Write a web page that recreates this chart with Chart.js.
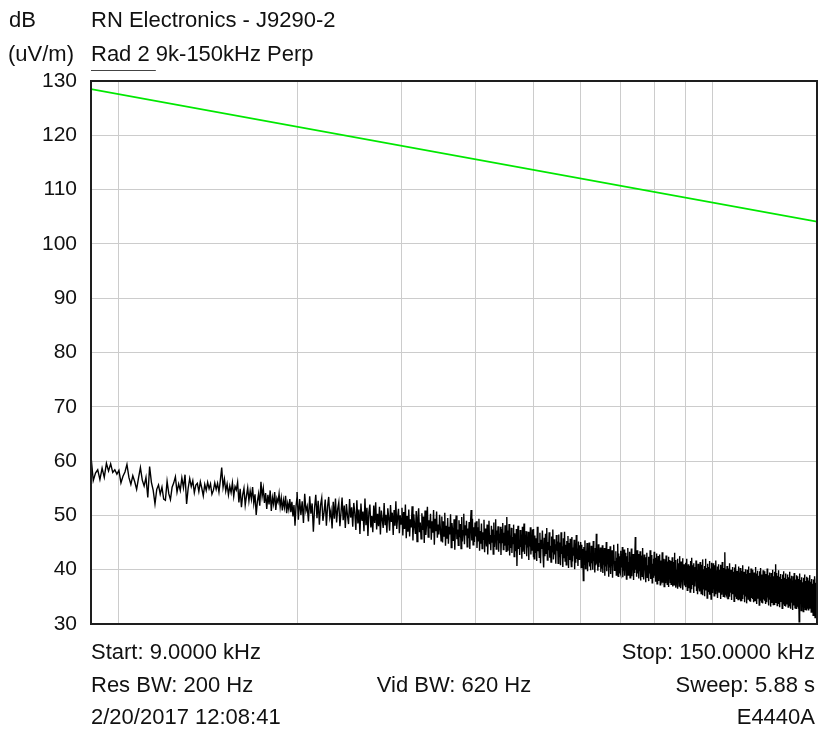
<!DOCTYPE html>
<html>
<head>
<meta charset="utf-8">
<script src="https://cdn.jsdelivr.net/npm/chart.js@4.4.1/dist/chart.umd.min.js"></script>
<style>
    html, body { margin: 0; padding: 0; background: #fff; }
    #wrap { width: 818px; height: 731px; }
</style>
</head>
<body>
<div id="wrap"><canvas id="chart" width="818" height="731"></canvas></div>
<script>
const FONT = '"Liberation Sans", Arial, sans-serif';

// axis
const gridFreqsKHz = [10, 20, 30, 40, 50, 60, 70, 80, 90, 100];
const levelTicksDb = [30, 40, 50, 60, 70, 80, 90, 100, 110, 120, 130];

// limit line (green)
const limitFreqsKHz = [9, 150];
const limitDb = [128.5, 104.1];

const trace9to20 = [
    60.9, 56.4, 57.8, 58.4, 56.6, 58.7, 57.0, 59.6, 58.2, 59.5,
    57.9, 58.4, 57.6, 58.3, 56.0, 57.2, 58.0, 59.4, 57.0, 55.7,
    57.3, 56.2, 54.8, 56.9, 58.8, 56.5, 55.4, 57.0, 53.3, 59.0,
    56.1, 54.6, 52.1, 54.8, 55.6, 53.9, 55.2, 53.0, 52.8, 56.3,
    54.0, 52.9, 55.2, 56.0, 57.1, 54.3, 55.8, 54.6, 56.9, 55.1,
    57.5, 52.1, 55.0, 56.8, 55.3, 56.4, 54.2, 55.6, 55.9, 54.4,
    56.2, 55.0, 53.6, 55.7, 54.6, 56.1, 54.9, 55.8, 53.9, 54.6,
    56.0, 54.8, 55.9, 54.3, 56.4, 58.8, 55.2, 56.7, 54.5, 55.8,
    53.8, 55.4, 54.2, 56.0, 53.5, 55.3, 54.7, 56.1, 52.4, 54.9,
    51.5, 53.8, 55.0, 51.9, 53.6, 55.1, 52.7, 54.5, 53.0, 55.2,
    52.2, 53.9, 50.1, 52.6, 54.0, 51.8, 56.2, 53.5, 55.0, 52.3,
    54.1, 51.2, 53.8, 52.0, 54.6, 50.8, 53.3, 52.1, 54.3, 51.0,
    53.1, 52.4, 54.0, 51.6, 53.2, 50.9, 52.8, 51.5, 53.6, 50.4,
    52.2, 51.1, 53.0, 50.6, 52.5, 49.8, 51.9, 48.1, 51.7, 53.4
];
const trace20to50 = [
    54.3, 49.2, 53.0, 50.1, 52.6, 48.6, 54.0, 50.8, 51.7, 48.9,
    53.5, 50.3, 52.2, 47.0, 51.4, 53.8, 49.5, 52.7, 48.3, 51.9,
    53.2, 49.0, 50.6, 52.9, 48.1, 51.6, 53.4, 49.7, 50.9, 47.6,
    52.5, 49.4, 53.1, 48.7, 51.2, 52.4, 48.0, 50.5, 53.3, 49.1,
    51.8, 47.7, 52.1, 50.0, 48.4, 53.0, 49.6, 51.5, 47.9, 52.3,
    50.4, 47.3, 52.8, 48.5, 51.1, 46.6, 52.2, 49.0, 50.7, 47.1,
    53.1, 48.2, 51.4, 46.2, 50.6, 52.0, 47.8, 49.9, 46.9, 51.8,
    48.6, 52.4, 47.4, 50.3, 48.0, 51.6, 46.5, 50.9, 49.2, 47.7,
    52.3, 48.3, 50.1, 46.8, 51.3, 49.5, 47.2, 51.9, 48.8, 50.5,
    46.4, 51.0, 48.1, 52.6, 47.5, 49.7, 51.2, 46.7, 50.0, 48.4,
    51.4, 46.3, 50.6, 47.5, 52.0, 45.8, 49.9, 47.0, 51.1, 46.1,
    49.3, 47.8, 51.7, 45.4, 50.2, 48.1, 46.6, 50.8, 45.2, 49.6,
    51.3, 46.9, 48.7, 45.7, 50.4, 47.3, 49.8, 44.9, 50.9, 46.4,
    48.5, 51.6, 46.0, 49.1, 47.6, 50.3, 45.5, 48.9, 46.8, 51.0,
    44.6, 49.4, 47.1, 50.7, 45.9, 48.3, 46.5, 50.1, 47.7, 45.3,
    49.8, 45.0, 48.9, 46.2, 50.5, 44.4, 48.1, 45.7, 49.5, 44.8,
    47.9, 46.5, 50.2, 44.1, 48.6, 46.9, 45.3, 49.3, 43.7, 48.0,
    50.0, 45.6, 47.4, 44.5, 49.1, 46.0, 48.4, 43.9, 49.7, 45.2,
    47.2, 50.3, 44.7, 48.2, 46.3, 49.0, 44.2, 47.6, 45.8, 48.8,
    43.8, 48.5, 51.0, 45.4, 49.4, 44.6, 47.8, 45.1, 48.7, 46.1,
    48.9, 44.0, 47.8, 45.3, 49.4, 43.5, 47.1, 44.8, 48.5, 43.9,
    46.9, 45.6, 49.2, 43.2, 47.6, 45.9, 44.3, 48.3, 42.8, 47.0,
    49.0, 44.7, 46.4, 43.6, 48.1, 45.1, 47.4, 42.9, 48.7, 44.2,
    46.2, 49.3, 43.8, 47.2, 45.4, 48.0, 43.3, 46.6, 44.9, 47.9,
    42.7, 47.5, 45.0, 48.6, 43.7, 46.8, 44.4, 48.2, 45.7, 43.4,
    49.7, 43.6, 47.2, 44.5, 48.4, 42.6, 46.3, 44.0, 47.7, 43.1,
    46.0, 44.8, 48.3, 42.4, 46.7, 45.0, 43.4, 47.5, 40.7, 46.2,
    48.1, 43.8, 45.5, 42.7, 47.3, 44.2, 46.5, 42.0, 47.9, 43.3,
    45.3, 48.5, 42.9, 46.4, 44.6, 47.1, 42.5, 45.8, 44.1, 47.0,
    41.8, 46.6, 44.3, 47.8, 42.8, 45.9, 43.5, 47.4, 44.7, 42.3
];
const trace50to100 = [
    47.5, 42.0, 46.3, 43.1, 45.8, 41.6, 47.9, 43.4, 44.9, 42.3,
    46.8, 41.2, 45.5, 43.8, 47.2, 42.7, 40.4, 45.9, 42.5, 46.6,
    43.0, 47.7, 41.8, 45.1, 43.6, 46.9, 42.2, 44.4, 41.4, 46.1,
    43.3, 47.4, 41.9, 45.6, 42.8, 44.7, 41.1, 46.4, 43.5, 45.2,
    41.2, 46.5, 42.4, 45.0, 40.8, 46.9, 42.9, 44.3, 40.5, 45.8,
    42.1, 47.0, 41.6, 44.6, 40.9, 45.3, 42.7, 46.2, 40.3, 44.9,
    41.8, 45.7, 42.3, 40.6, 46.0, 41.5, 44.1, 42.6, 45.5, 40.1,
    44.8, 41.3, 46.4, 42.0, 43.9, 40.7, 45.2, 41.9, 44.5, 42.8,
    45.1, 40.4, 44.6, 41.7, 43.8, 38.0, 44.2, 41.0, 45.4, 40.2,
    43.5, 41.8, 44.9, 39.7, 43.1, 41.4, 45.0, 40.6, 42.9, 39.9,
    44.4, 41.2, 43.7, 40.0, 45.3, 41.6, 42.4, 39.5, 44.0, 40.8,
    46.6, 41.1, 43.3, 39.8, 44.7, 40.5, 42.8, 41.3, 44.1, 39.6,
    43.9, 40.2, 44.5, 39.4, 42.6, 40.9, 44.0, 38.9, 43.2, 40.6,
    45.1, 39.7, 42.3, 41.0, 43.8, 38.7, 42.9, 40.4, 44.3, 39.2,
    42.0, 40.8, 43.6, 38.5, 42.7, 41.2, 44.6, 39.9, 41.6, 40.1,
    43.4, 39.0, 42.2, 40.7, 44.8, 38.8, 43.0, 40.3, 42.5, 39.5,
    43.5, 39.1, 42.8, 40.4, 44.2, 38.6, 42.0, 39.8, 43.7, 38.9,
    41.9, 40.6, 43.1, 38.3, 42.5, 39.6, 44.0, 39.0, 41.4, 40.2,
    43.3, 38.5, 42.2, 39.9, 43.9, 38.8, 41.7, 40.5, 42.9, 38.1,
    42.4, 39.4, 41.2, 46.0, 40.0, 42.7, 38.7, 43.6, 39.3, 41.8,
    42.9, 38.4, 42.1, 39.7, 43.4, 38.0, 41.6, 39.2, 42.6, 38.8,
    44.0, 39.5, 41.3, 38.2, 42.8, 39.9, 41.0, 37.7, 42.3, 39.1,
    43.1, 38.6, 40.8, 39.8, 42.4, 37.9, 41.7, 39.3, 43.6, 38.3,
    41.5, 39.0, 42.7, 37.6, 41.1, 39.6, 42.0, 38.5, 43.3, 38.9,
    42.2, 37.8, 41.4, 39.1, 43.0, 37.4, 41.0, 38.7, 42.5, 37.9,
    40.6, 39.3, 42.8, 37.2, 41.7, 38.4, 40.9, 38.0, 43.2, 37.6,
    41.3, 39.0, 42.0, 36.9, 40.4, 38.6, 41.9, 37.5, 42.6, 38.2,
    40.8, 37.3, 41.5, 39.4, 42.4, 36.8, 40.7, 38.8, 41.8, 37.7,
    41.6, 37.3, 40.9, 38.6, 42.3, 36.9, 40.2, 38.1, 41.4, 37.2,
    43.1, 38.4, 40.6, 36.7, 41.8, 38.9, 40.0, 37.5, 42.0, 36.5,
    40.8, 38.3, 41.2, 37.0, 42.5, 38.0, 39.7, 36.6, 41.5, 38.7,
    40.3, 37.4, 42.1, 36.3, 40.5, 38.5, 41.0, 37.1, 39.9, 38.2,
    41.3, 36.8, 40.4, 38.0, 42.0, 36.2, 39.8, 37.6, 41.0, 36.6,
    40.7, 38.3, 39.5, 35.9, 41.6, 37.9, 40.1, 36.4, 42.2, 37.3,
    39.9, 38.5, 40.8, 35.7, 41.2, 37.7, 39.3, 36.9, 40.5, 38.1,
    41.7, 36.1, 40.0, 37.4, 39.6, 35.5, 41.1, 37.8, 40.3, 36.7,
    40.6, 36.0, 41.4, 37.2, 39.7, 35.6, 40.9, 37.8, 39.2, 35.3,
    41.9, 36.5, 40.1, 37.5, 39.4, 35.1, 40.7, 36.9, 42.0, 36.2,
    39.6, 37.6, 40.3, 34.8, 41.1, 36.6, 39.0, 35.9, 40.5, 37.3,
    41.6, 35.4, 39.8, 36.8, 40.2, 34.6, 41.3, 37.0, 39.5, 36.1
];
const trace100to150 = [
    40.4, 35.7, 41.2, 36.9, 39.5, 35.2, 40.8, 37.4, 39.0, 35.5,
    41.7, 36.3, 39.9, 37.0, 40.6, 34.8, 39.3, 36.6, 41.0, 35.9,
    40.0, 37.5, 39.1, 34.6, 40.9, 36.2, 39.6, 35.4, 41.4, 36.8,
    39.4, 35.1, 40.3, 37.2, 39.8, 34.9, 43.2, 36.0, 40.1, 35.6,
    39.9, 35.3, 40.7, 36.5, 39.0, 34.7, 40.2, 37.0, 38.6, 35.0,
    41.2, 35.9, 39.4, 36.6, 40.0, 34.4, 38.8, 36.1, 40.5, 35.5,
    39.6, 37.1, 38.5, 34.2, 40.4, 35.8, 39.2, 35.0, 41.0, 36.3,
    38.9, 34.6, 39.8, 36.8, 39.3, 34.5, 40.6, 35.6, 39.5, 35.2,
    39.5, 34.9, 40.3, 36.1, 38.6, 34.3, 39.8, 36.6, 38.2, 34.6,
    40.8, 35.5, 39.0, 36.2, 39.6, 34.0, 38.4, 35.7, 40.1, 35.1,
    39.2, 36.7, 38.1, 33.8, 40.0, 35.4, 38.8, 34.6, 40.6, 35.9,
    38.5, 34.2, 39.4, 36.4, 38.9, 34.1, 40.2, 35.2, 39.1, 34.8,
    39.2, 34.6, 40.0, 35.8, 38.3, 34.0, 39.5, 36.3, 37.9, 34.3,
    40.5, 35.2, 38.7, 35.9, 39.3, 33.7, 38.1, 35.4, 39.8, 34.8,
    38.9, 36.4, 37.8, 33.5, 39.7, 35.1, 38.5, 34.3, 40.3, 35.6,
    38.2, 33.9, 39.1, 36.1, 38.6, 33.8, 39.9, 34.9, 38.8, 34.5,
    38.9, 34.3, 39.7, 35.5, 38.0, 33.7, 39.2, 36.0, 37.6, 34.0,
    40.2, 34.9, 38.4, 35.6, 39.0, 33.4, 37.8, 35.1, 39.5, 34.5,
    38.6, 36.1, 37.5, 33.2, 39.4, 34.8, 38.2, 34.0, 40.0, 35.3,
    37.9, 33.6, 38.8, 35.8, 38.3, 33.5, 39.6, 34.6, 38.5, 34.2,
    41.0, 34.0, 39.4, 35.2, 37.7, 33.4, 38.9, 35.7, 37.3, 33.7,
    39.9, 34.6, 38.1, 35.3, 38.7, 33.1, 37.5, 34.8, 39.2, 34.2,
    38.3, 35.8, 37.2, 32.9, 39.1, 34.5, 37.9, 33.7, 39.7, 35.0,
    37.6, 33.3, 38.5, 35.5, 38.0, 33.2, 39.3, 34.3, 38.2, 33.9,
    38.3, 33.7, 39.1, 34.9, 37.4, 33.1, 38.6, 35.4, 37.0, 33.4,
    39.6, 34.3, 37.8, 35.0, 38.4, 32.8, 37.2, 34.5, 38.9, 33.9,
    38.0, 35.5, 36.9, 32.6, 38.8, 34.2, 37.6, 33.4, 39.4, 34.7,
    37.3, 33.0, 38.2, 35.2, 37.7, 32.9, 39.0, 34.0, 37.9, 33.6,
    38.0, 33.4, 38.8, 34.6, 37.1, 32.8, 38.3, 30.4, 36.7, 33.1,
    39.3, 34.0, 37.5, 34.7, 38.1, 32.5, 36.9, 34.2, 38.6, 33.6,
    37.7, 35.2, 36.6, 32.3, 38.5, 33.9, 37.3, 33.1, 39.1, 34.4,
    37.0, 32.7, 37.9, 34.9, 37.4, 32.6, 38.7, 33.7, 37.6, 33.3,
    37.7, 33.1, 38.5, 34.3, 36.8, 32.5, 38.0, 34.8, 36.4, 32.8,
    39.0, 33.7, 37.2, 34.4, 37.8, 32.2, 36.6, 33.9, 38.3, 33.3,
    37.4, 34.9, 36.3, 31.6, 38.2, 33.6, 37.0, 32.8, 38.8, 34.1,
    36.7, 31.2, 37.6, 34.6, 37.1, 32.3, 38.4, 31.8, 36.9, 34.0
];

const tracePieces = [
    { from: 9, to: 20, values: trace9to20 },
    { from: 20, to: 50, values: trace20to50 },
    { from: 50, to: 100, values: trace50to100 },
    { from: 100, to: 150, values: trace100to150 }
];

function piecePoints(piece) {
    const step = (piece.to - piece.from) / (piece.values.length - 1);
    return piece.values.map((v, i) => ({ x: piece.from + i * step, y: v }));
}

const tracePoints = [].concat(...tracePieces.map(piecePoints));
const limitPoints = limitFreqsKHz.map((f, i) => ({ x: f, y: limitDb[i] }));

// frame + header / footer text
const annotations = {
    id: 'annotations',
    afterDraw(chart) {
        const ctx = chart.ctx;
        const a = chart.chartArea;
        ctx.save();
        ctx.strokeStyle = '#1e1e1e';
        ctx.lineWidth = 2;
        ctx.strokeRect(a.left, a.top, a.right - a.left, a.bottom - a.top);

        ctx.fillStyle = '#111';
        ctx.font = '22px ' + FONT;
        ctx.textBaseline = 'alphabetic';
        const mid = (a.left + a.right) / 2;
        const rows = [
            ['dB', 9, 27, 'left'],
            ['RN Electronics - J9290-2', a.left, 27, 'left'],
            ['(uV/m)', 8, 61, 'left'],
            ['Rad 2 9k-150kHz Perp', a.left, 61, 'left'],
            ['Start: 9.0000 kHz', a.left, 659, 'left'],
            ['Stop: 150.0000 kHz', a.right - 2, 659, 'right'],
            ['Res BW: 200 Hz', a.left, 692, 'left'],
            ['Vid BW: 620 Hz', mid, 692, 'center'],
            ['Sweep: 5.88 s', a.right - 2, 692, 'right'],
            ['2/20/2017 12:08:41', a.left, 724, 'left'],
            ['E4440A', a.right - 2, 724, 'right']
        ];
        rows.forEach(r => {
            ctx.textAlign = r[3];
            ctx.fillText(r[0], r[1], r[2]);
        });

        ctx.textAlign = 'left';
        const w = ctx.measureText('Rad 2 ').width;
        ctx.strokeStyle = '#444';
        ctx.lineWidth = 1;
        ctx.beginPath();
        ctx.moveTo(a.left, 70.5);
        ctx.lineTo(a.left + w, 70.5);
        ctx.stroke();
        ctx.restore();
    }
};

Chart.defaults.font.family = FONT;

new Chart(document.getElementById('chart'), {
    type: 'line',
    data: {
        datasets: [{
            label: 'Limit',
            data: limitPoints,
            borderColor: '#00e800',
            borderWidth: 1.6,
            pointRadius: 0
        }, {
            label: 'Trace',
            data: tracePoints,
            borderColor: '#000',
            borderWidth: 1.4,
            pointRadius: 0,
            tension: 0
        }]
    },
    options: {
        responsive: false,
        animation: false,
        events: [],
        layout: { padding: { left: 0, top: 81, right: 1, bottom: 107 } },
        plugins: { legend: { display: false }, tooltip: { enabled: false } },
        scales: {
            x: {
                type: 'logarithmic',
                min: 9,
                max: 150,
                afterBuildTicks: s => { s.ticks = gridFreqsKHz.map(v => ({ value: v })); },
                afterFit: s => { s.height = 0; },
                ticks: { display: false },
                grid: { color: '#cccccc', lineWidth: 1, drawTicks: false },
                border: { display: false }
            },
            y: {
                min: 30,
                max: 130,
                afterBuildTicks: s => { s.ticks = levelTicksDb.map(v => ({ value: v })); },
                afterFit: s => { s.width = 91; },
                ticks: { color: '#111', padding: 14, font: { size: 21 } },
                grid: { color: '#cccccc', lineWidth: 1, drawTicks: false },
                border: { display: false }
            }
        }
    },
    plugins: [annotations]
});
</script>
</body>
</html>
